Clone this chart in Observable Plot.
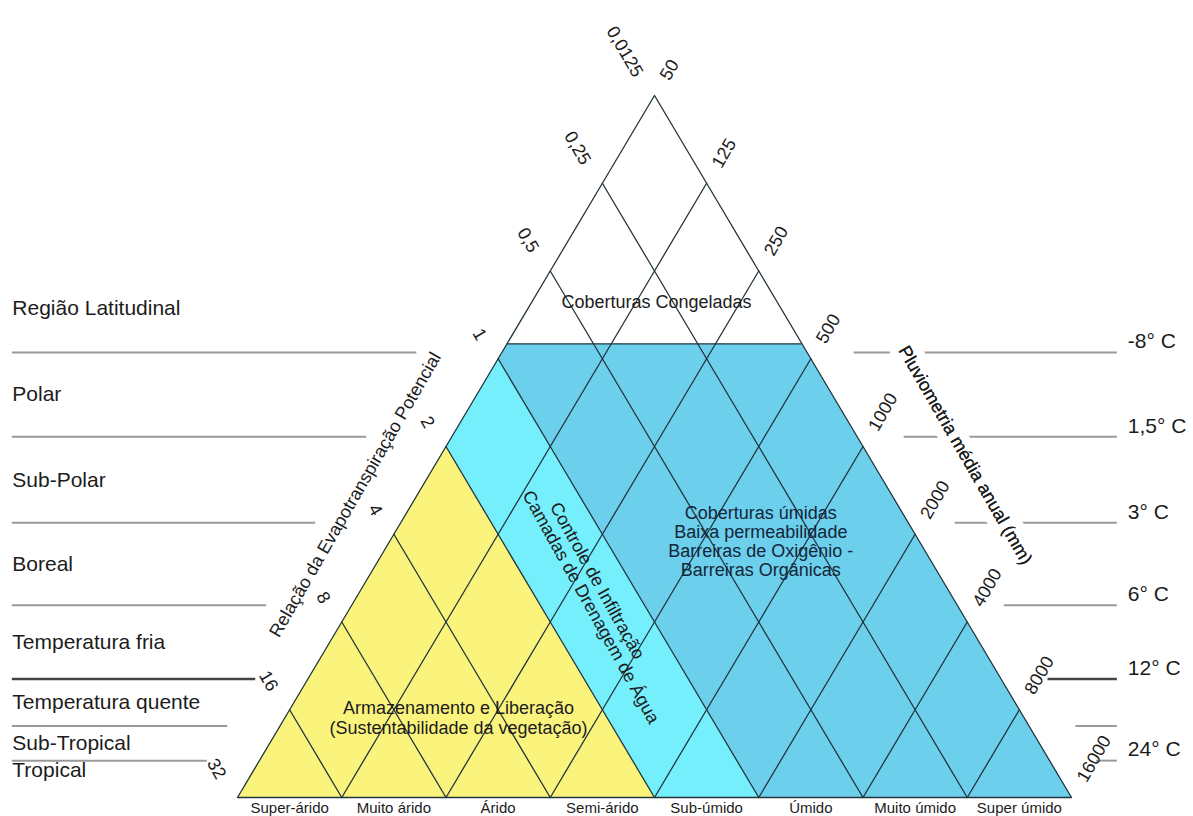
<!DOCTYPE html>
<html><head><meta charset="utf-8">
<script src="https://cdn.jsdelivr.net/npm/d3@7"></script>
<script src="https://cdn.jsdelivr.net/npm/@observablehq/plot@0.6"></script>
<style>
html,body{margin:0;padding:0;background:#fff;}
#chart{width:1193px;height:816px;overflow:hidden;}
</style></head>
<body><div id="chart"></div>
<script>
// ---------- data ----------
const etpRatio = ["0,0125","0,25","0,5","1","2","4","8","16","32"];          // left side, apex -> base
const rainfall = ["50","125","250","500","1000","2000","4000","8000","16000"]; // right side, apex -> base
const humidity = ["Super-árido","Muito árido","Árido","Semi-árido","Sub-úmido","Úmido","Muito úmido","Super úmido"];
const latRegions = ["Região Latitudinal","Polar","Sub-Polar","Boreal","Temperatura fria","Temperatura quente","Sub-Tropical","Tropical"];
const latBoundaries = [5.07, 4.11, 3.13, 2.19, 1.35, 0.815, 0.42];   // in triangle level units
const temperatures = ["-8° C","1,5° C","3° C","6° C","12° C",null,"24° C"];
const frozenLimit = 5.17;               // top of the "wet" zone, level units
const infiltrationRatio = "1";          // boundary of drainage-layer zone
const storageRatio = "2";               // boundary of storage & release zone
const zoneLabels = {
  frozen: "Coberturas Congeladas",
  wet: "Coberturas úmidas\nBaixa permeabilidade\nBarreiras de Oxigênio -\nBarreiras Orgânicas",
  storage: "Armazenamento e Liberação\n(Sustentabilidade da vegetação)",
  infil1: "Controle de Infiltração",
  infil2: "Camadas de Drenagem de Água"
};
const leftTitle = "Relação da Evapotranspiração Potencial";
const rightTitle = "Pluviometria média anual (mm)";

// ---------- geometry (derived) ----------
const N = etpRatio.length - 1;
const xL = y => -(N - y) / 2, xR = y => (N - y) / 2;
const levels = d3.range(N + 1);
const P = ([x, y]) => ({x, y});
const diag = i => d3.range(N - i, -1, -1).map(y => [xL(N - i) + (N - i - y) / 2, y]);
const anti = i => diag(i).map(([x, y]) => [-x, y]);

const outline = [...levels.slice().reverse().map(y => [xL(y), y]), ...levels.map(y => [xR(y), y])].map(P);
const f = frozenLimit;
const below = levels.filter(y => y < f);
const bluePoly = [[xL(f), f], ...below.slice().reverse().map(y => [xL(y), y]), ...below.map(y => [xR(y), y]), [xR(f), f]].map(P);
const iC = etpRatio.indexOf(infiltrationRatio), iS = etpRatio.indexOf(storageRatio);
const cyanPoly = [...diag(iC), ...diag(iS).reverse()].map(P);
const yellowPoly = [...diag(iS), ...levels.filter(y => y <= N - iS).map(y => [xL(y), y])].map(P);
const grid = [];
for (let i = 1; i < N; i++) {
  diag(i).forEach(p => grid.push({...P(p), id: "d" + i}));
  anti(i).forEach(p => grid.push({...P(p), id: "a" + i}));
}
const bounds = latBoundaries.map((y, i) => ({y, i, temp: temperatures[i]}));
const bandEdges = [6.09, ...latBoundaries, 0.2];
const regions = latRegions.map((name, i) => ({name, y: (bandEdges[i] + bandEdges[i + 1]) / 2}));
const leftTicks = etpRatio.map((t, i) => ({t, y: N - i}));
const rightTicks = rainfall.map((t, i) => ({t, y: N - i}));
const bottom = humidity.map((h, k) => ({h, x: -N / 2 + k + 0.5}));

const BLUE = "#6ccfec", CYAN = "#74effb", YELLOW = "#faf47c", INK = "#22343c", TXT = "#1c1c1c";
const xLeftText = -6.16, xRightEnd = 4.44, xRightText = 4.54, titleBottom = 1.82;

const chart = Plot.plot({
  width: 1193, height: 816,
  margin: 0,
  x: {domain: [-4, 4], range: [237, 1071], axis: null},
  y: {domain: [0, 8], range: [797, 95], axis: null},
  style: {fontFamily: "Arial, 'Liberation Sans', sans-serif", background: "white"},
  marks: [
    Plot.line(bluePoly, {x: "x", y: "y", fill: BLUE, stroke: "none", curve: "linear-closed"}),
    Plot.line(cyanPoly, {x: "x", y: "y", fill: CYAN, stroke: "none", curve: "linear-closed"}),
    Plot.line(yellowPoly, {x: "x", y: "y", fill: YELLOW, stroke: "none", curve: "linear-closed"}),
    Plot.line(grid, {x: "x", y: "y", z: "id", stroke: INK, strokeWidth: 1.3}),
    Plot.line(outline, {x: "x", y: "y", stroke: INK, strokeWidth: 1.3, curve: "linear-closed"}),
    Plot.ruleY([f], {y: d => d, x1: d => xL(d), x2: d => xR(d), stroke: INK, strokeWidth: 1.3}),
    // latitude guide lines
    Plot.ruleY(bounds.filter(d => d.i !== 4), {y: "y", x1: () => xLeftText, x2: d => xL(d.y) - (d.y > titleBottom ? 0.815 : 0.5), stroke: "#9a9a9a", strokeWidth: 2}),
    Plot.ruleY(bounds.filter(d => d.i === 4), {y: "y", x1: () => xLeftText, x2: d => xL(d.y) - 0.5, stroke: "#444", strokeWidth: 2.5}),
    Plot.ruleY(bounds.filter(d => d.i !== 4), {y: "y", x1: d => xR(d.y) + 0.45, x2: () => xRightEnd, stroke: "#9a9a9a", strokeWidth: 2}),
    Plot.ruleY(bounds.filter(d => d.i === 4), {y: "y", x1: d => xR(d.y) + 0.45, x2: () => xRightEnd, stroke: "#444", strokeWidth: 2.5}),
    // side texts
    Plot.text(regions, {x: () => xLeftText, y: "y", text: "name", textAnchor: "start", fontSize: 21, fill: TXT}),
    Plot.text(bounds.filter(d => d.temp), {x: () => xRightText, y: "y", text: "temp", textAnchor: "start", dy: -11, fontSize: 21, fill: TXT}),
    // edge tick labels
    Plot.text(leftTicks, {x: d => xL(d.y), y: "y", text: "t", rotate: 60, textAnchor: "end", dx: -16, dy: -20, fontSize: 18, fill: TXT}),
    Plot.text(rightTicks, {x: d => xR(d.y), y: "y", text: "t", rotate: -60, textAnchor: "start", dx: 10, dy: -17, fontSize: 18, fill: TXT}),
    // axis titles
    Plot.text([3.45], {x: d => xL(d), y: d => d, text: () => leftTitle, rotate: -60, dx: -62, fontSize: 18, fill: TXT}),
    Plot.text([3.9], {x: d => xR(d), y: d => d, text: () => rightTitle, rotate: 60, dx: 97, fontSize: 18, fill: TXT, stroke: "white", strokeWidth: 18}),
    Plot.text([3.9], {x: d => xR(d), y: d => d, text: () => rightTitle, rotate: 60, dx: 97, fontSize: 18, fill: TXT}),
    // bottom humidity labels
    Plot.text(bottom, {x: "x", y: () => 0, text: "h", dy: 11, fontSize: 15, fill: TXT}),
    // zone labels
    Plot.text([zoneLabels.frozen], {x: () => 0, y: () => 5.64, text: d => d, dx: 2, fontSize: 18, fill: TXT}),
    Plot.text([zoneLabels.wet], {x: () => 1.02, y: () => 2.92, text: d => d, fontSize: 18, lineHeight: 1.06, fill: "#14263a"}),
    Plot.text([zoneLabels.storage], {x: () => -1.88, y: () => 0.91, text: d => d, fontSize: 18, lineHeight: 1.1, fill: TXT}),
    Plot.text([zoneLabels.infil1], {x: () => -0.55, y: () => 2.47, text: d => d, rotate: 61, fontSize: 18, fill: TXT}),
    Plot.text([zoneLabels.infil2], {x: () => -0.61, y: () => 2.17, text: d => d, rotate: 61, fontSize: 18, fill: TXT})
  ]
});
document.getElementById("chart").append(chart);
</script>
</body></html>
